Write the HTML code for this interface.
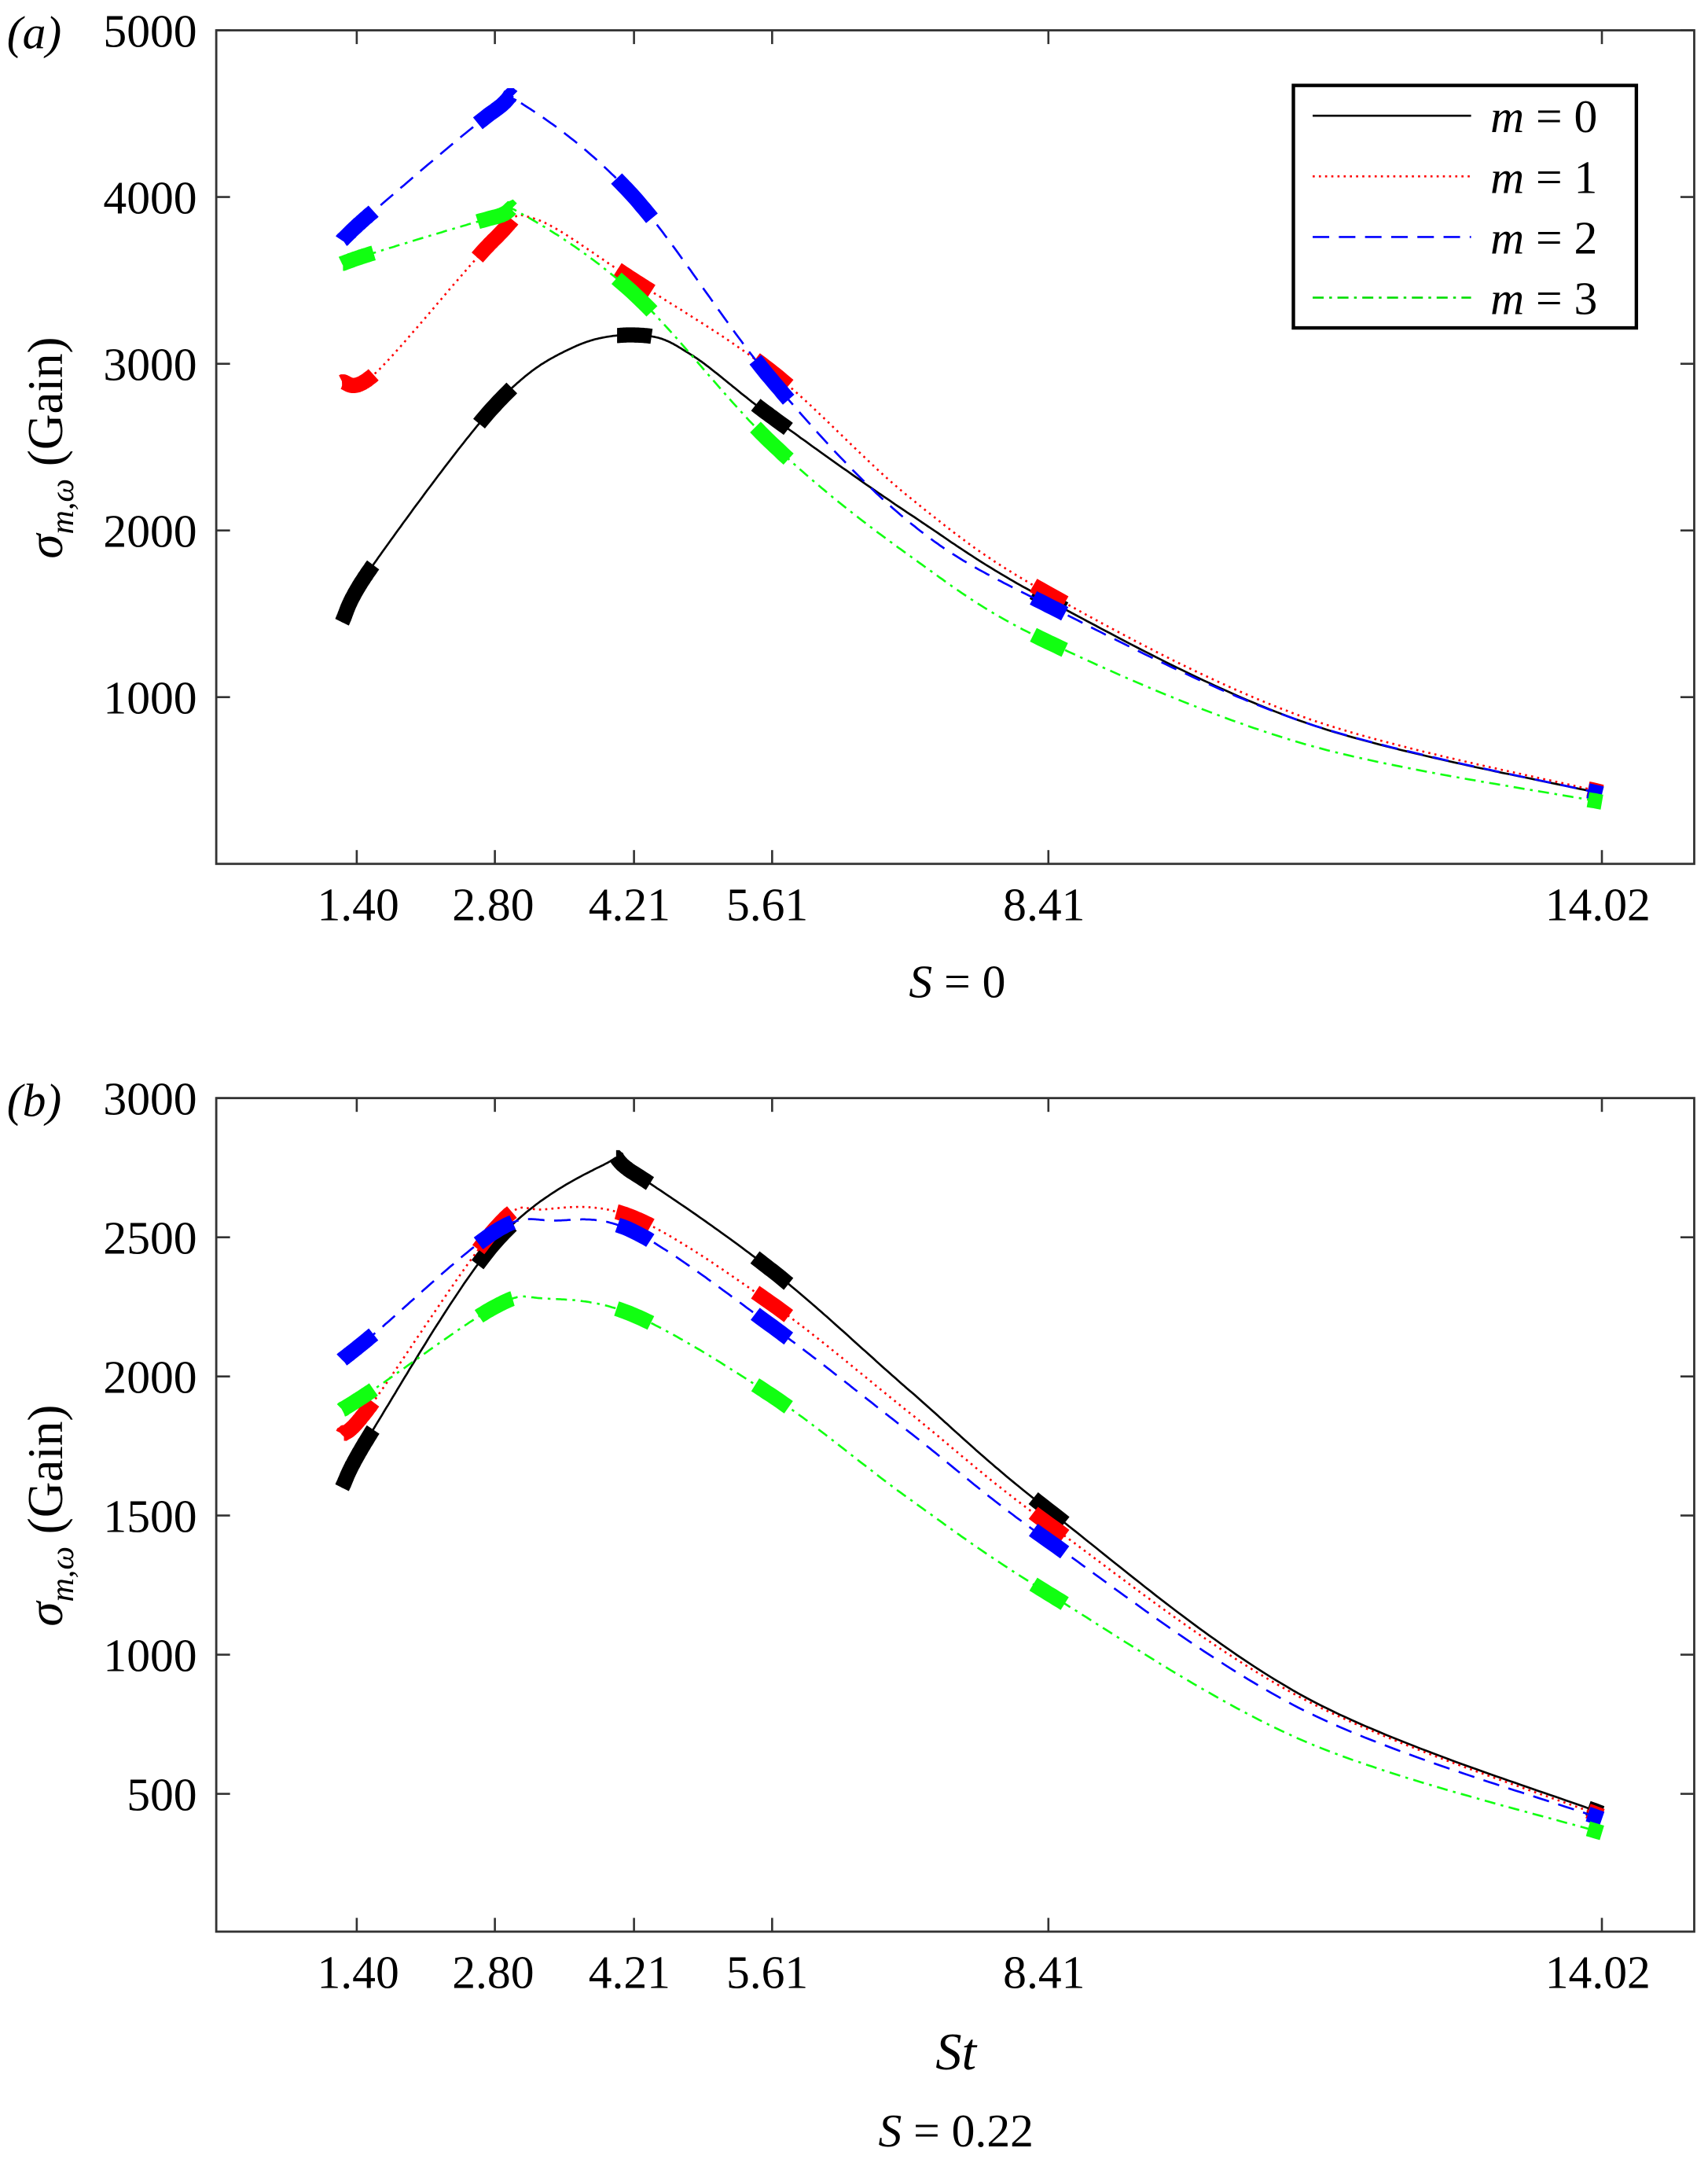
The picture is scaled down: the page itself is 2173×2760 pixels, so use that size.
<!DOCTYPE html>
<html><head><meta charset="utf-8"><style>
html,body{margin:0;padding:0;background:#fff}
svg{display:block}
text{font-family:"Liberation Serif",serif;fill:#000}
</style></head><body>
<svg id="s" width="2173" height="2760" viewBox="0 0 1240 1575" preserveAspectRatio="none" xmlns="http://www.w3.org/2000/svg">
<g id="g"></g>
<!-- Panel a -->
<rect x="157" y="22" width="1073" height="605" fill="none" stroke="#333" stroke-width="1.6"/>
<text x="5" y="35" font-size="34" font-style="italic">(a)</text>
<g font-size="34" text-anchor="end">
<text x="143" y="34">5000</text><text x="143" y="155">4000</text><text x="143" y="276">3000</text><text x="143" y="397">2000</text><text x="143" y="518">1000</text>
</g>
<g font-size="34" text-anchor="middle">
<text x="260" y="668">1.40</text><text x="358" y="668">2.80</text><text x="457" y="668">4.21</text><text x="557" y="668">5.61</text><text x="758" y="668">8.41</text><text x="1160" y="668">14.02</text>
<text x="695" y="724" font-style="italic">S<tspan font-style="normal"> = 0</tspan></text>
</g>
<text transform="translate(45,325) rotate(-90)" font-size="36" text-anchor="middle"><tspan font-style="italic">σ</tspan><tspan font-size="24" font-style="italic" dy="8">m,ω</tspan><tspan dy="-8"> (Gain)</tspan></text>
<rect x="939" y="62" width="249" height="176" fill="#fff" stroke="#000" stroke-width="2.5"/>
<line x1="953" y1="84" x2="1068" y2="84" stroke="#000" stroke-width="1.5"/>
<line x1="953" y1="128" x2="1068" y2="128" stroke="#f00" stroke-width="1.5" stroke-dasharray="1.5,3"/>
<line x1="953" y1="172" x2="1068" y2="172" stroke="#00f" stroke-width="1.5" stroke-dasharray="12,7"/>
<line x1="953" y1="216" x2="1068" y2="216" stroke="#0d0" stroke-width="1.5" stroke-dasharray="8,4,2,4"/>
<g font-size="34" font-style="italic">
<text x="1082" y="96">m<tspan font-style="normal"> = 0</tspan></text>
<text x="1082" y="140">m<tspan font-style="normal"> = 1</tspan></text>
<text x="1082" y="184">m<tspan font-style="normal"> = 2</tspan></text>
<text x="1082" y="228">m<tspan font-style="normal"> = 3</tspan></text>
</g>
<!-- Panel b -->
<rect x="157" y="797" width="1073" height="605" fill="none" stroke="#333" stroke-width="1.6"/>
<text x="5" y="810" font-size="34" font-style="italic">(b)</text>
<g font-size="34" text-anchor="end">
<text x="143" y="809">3000</text><text x="143" y="910">2500</text><text x="143" y="1011">2000</text><text x="143" y="1112">1500</text><text x="143" y="1213">1000</text><text x="143" y="1314">500</text>
</g>
<g font-size="34" text-anchor="middle">
<text x="260" y="1443">1.40</text><text x="358" y="1443">2.80</text><text x="457" y="1443">4.21</text><text x="557" y="1443">5.61</text><text x="758" y="1443">8.41</text><text x="1160" y="1443">14.02</text>
<text x="694" y="1502" font-size="38" font-style="italic">St</text>
<text x="694" y="1558" font-style="italic">S<tspan font-style="normal"> = 0.22</tspan></text>
</g>
<text transform="translate(45,1100) rotate(-90)" font-size="36" text-anchor="middle"><tspan font-style="italic">σ</tspan><tspan font-size="24" font-style="italic" dy="8">m,ω</tspan><tspan dy="-8"> (Gain)</tspan></text>
</svg>
<script>
var NS="http://www.w3.org/2000/svg",g=document.getElementById('g');
function X(st){return 259+(st-1.40)*71.63;}
function el(n,a){var e=document.createElementNS(NS,n);for(var k in a)e.setAttribute(k,a[k]);g.appendChild(e);return e;}
function Ya(v){return 627-v*0.121;}function Yb(v){return 1403-v*0.202;}
var sts=[1.40,2.80,4.21,5.61,8.41,14.02];
[[22,627,[1000,2000,3000,4000,5000],Ya],[797,1402,[500,1000,1500,2000,2500,3000],Yb]].forEach(function(p){
 sts.forEach(function(s){var x=X(s);el('line',{x1:x,y1:p[0],x2:x,y2:p[0]+10,stroke:'#333','stroke-width':1.5});el('line',{x1:x,y1:p[1],x2:x,y2:p[1]-10,stroke:'#333','stroke-width':1.5});});
 p[2].forEach(function(v){var y=p[3](v);el('line',{x1:157,y1:y,x2:167,y2:y,stroke:'#333','stroke-width':1.5});el('line',{x1:1230,y1:y,x2:1220,y2:y,stroke:'#333','stroke-width':1.5});});
});
function curve(pts){
 var out=[];for(var i=0;i<pts.length-1;i++){var p0=pts[Math.max(i-1,0)],p1=pts[i],p2=pts[i+1],p3=pts[Math.min(i+2,pts.length-1)];
 for(var t=0;t<1;t+=0.02){var t2=t*t,t3=t2*t;
  var f=function(a,b,c,d){return 0.5*((2*b)+(-a+c)*t+(2*a-5*b+4*c-d)*t2+(-a+3*b-3*c+d)*t3);};
  out.push([f(p0[0],p1[0],p2[0],p3[0]),f(p0[1],p1[1],p2[1],p3[1])]);}}
 out.push(pts[pts.length-1]);return out;}
function series(data,Y,col,dash,mk){
 var pts=data.map(function(d){return [X(d[0]),Y(d[1])];});
 var c=curve(pts);
 var a={points:c.map(function(p){return p[0].toFixed(1)+','+p[1].toFixed(1)}).join(' '),fill:'none',stroke:col,'stroke-width':1.5};
 if(dash)a['stroke-dasharray']=dash;el('polyline',a);
 mk.forEach(function(s){var x=X(s);var seg=c.filter(function(p){return p[0]>=x-13&&p[0]<=x+13;});
  if(seg.length<2){var first=c[0];seg=c.filter(function(p){return p[0]<=first[0]+26;});}
  el('polyline',{points:seg.map(function(p){return p[0].toFixed(1)+','+p[1].toFixed(1)}).join(' '),fill:'none',stroke:col,'stroke-width':11,'stroke-linecap':'butt'});});
}
var green='#1f1', mk=[1.40,2.80,4.21,5.61,8.41,14.02];
series([[1.25,1450],[1.55,1780],[2.8,2750],[3.6,3100],[4.3,3170],[4.8,3050],[5.61,2680],[7,2100],[8.41,1580],[11,850],[14.02,420]],Ya,'#000',null,mk);
series([[1.25,2890],[1.6,2950],[2.8,3750],[3.2,3870],[4.21,3500],[5.61,2950],[7,2200],[8.41,1620],[11,880],[14.02,430]],Ya,'#f00','1.5,3',mk);
series([[1.25,3740],[1.6,3930],[2.8,4520],[3.1,4550],[4.21,4000],[5.61,2900],[7,2050],[8.41,1550],[11,850],[14.02,420]],Ya,'#00f','12,7',mk);
series([[1.25,3600],[1.6,3670],[2.8,3880],[3.1,3890],[4.21,3420],[5.61,2520],[7,1850],[8.41,1330],[11,720],[14.02,370]],Ya,green,'8,4,2,4',mk);
series([[1.25,1600],[1.55,1800],[2.8,2480],[3.9,2760],[4.21,2730],[5.61,2380],[7,1950],[8.41,1520],[11,850],[14.02,430]],Yb,'#000',null,mk);
series([[1.25,1790],[1.55,1900],[2.8,2530],[3.3,2600],[4.21,2570],[5.61,2260],[7,1870],[8.41,1470],[11,840],[14.02,420]],Yb,'#f00','1.5,3',mk);
series([[1.25,2060],[1.6,2160],[2.8,2520],[3.4,2560],[4.21,2520],[5.61,2180],[7,1800],[8.41,1410],[11,800],[14.02,410]],Yb,'#00f','12,7',mk);
series([[1.25,1880],[1.6,1960],[2.8,2250],[3.3,2280],[4.21,2220],[5.61,1930],[7,1560],[8.41,1220],[11,690],[14.02,360]],Yb,green,'8,4,2,4',mk);
</script>
</body></html>
